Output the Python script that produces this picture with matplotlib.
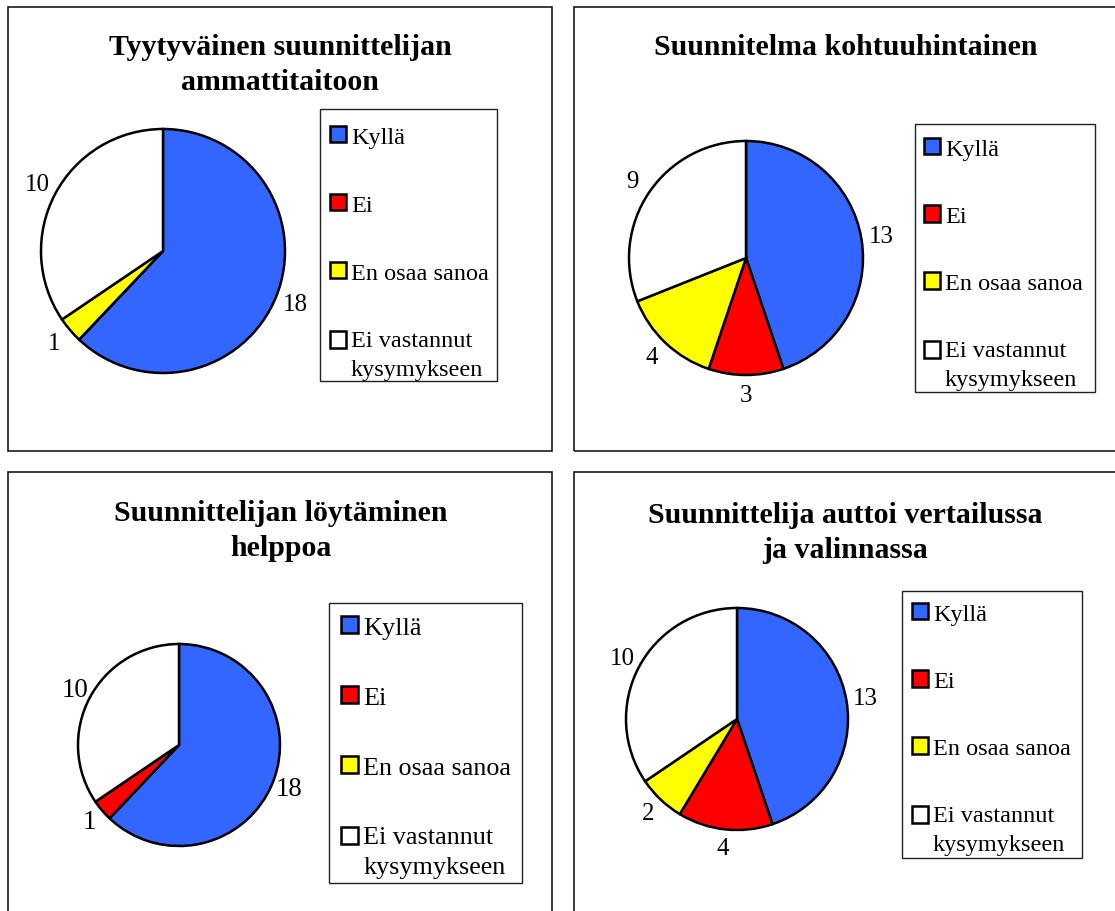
import matplotlib
matplotlib.use('Agg')
import matplotlib.pyplot as plt
from matplotlib.patches import Rectangle, Patch
from matplotlib.legend_handler import HandlerPatch

plt.rcParams['font.family'] = ['Liberation Serif', 'DejaVu Serif']

# data
categories = ['Kyllä', 'Ei', 'En osaa sanoa', 'Ei vastannut\nkysymykseen']
colors = ['#3366ff', '#ff0000', '#ffff00', '#ffffff']

titles = ['Tyytyväinen suunnittelijan\nammattitaitoon',
          'Suunnitelma kohtuuhintainen',
          'Suunnittelijan löytäminen\nhelppoa',
          'Suunnittelija auttoi vertailussa\nja valinnassa']

ammattitaito = [18, 0, 1, 10]
hinta = [13, 3, 4, 9]
loytaminen = [18, 1, 0, 10]
vertailu = [13, 4, 2, 10]

W, H = 1115, 912
fig = plt.figure(figsize=(W / 100, H / 100), dpi=100)


def fx(x):
    return x / W


def fy(y):
    return 1 - y / H


def box(x0, y0, x1, y1, lw, color):
    fig.add_artist(Rectangle((fx(x0), fy(y1)), (x1 - x0) / W, (y1 - y0) / H,
                             transform=fig.transFigure, fill=False,
                             edgecolor=color, linewidth=lw))


# square that sits on the first line of a two-line legend label
def top_square(legend, orig_handle, xdescent, ydescent, width, height, fontsize):
    return Rectangle((-xdescent, -ydescent + 0.6 * fontsize), width, height)


# panel borders (pixel coords, top-left origin)
panels = [(8, 8, 552, 452), (574, 8, 1125, 452),
          (8, 473, 552, 925), (574, 473, 1125, 925)]
for p in panels:
    box(*p, lw=1.2, color='#1a1a1a')

# pie centre/radius, title centre, legend anchor, legend frame, font size
layout = [
    dict(c=(163, 252), r=122, t=(280, 65), leg=(320, 117),
         frame=(320, 110, 497, 382), fs=17.5, ls=1.9),
    dict(c=(746, 259), r=117, t=(846, 48), leg=(914, 129),
         frame=(915, 125, 1095, 393), fs=17.5, ls=1.87),
    dict(c=(179, 746), r=101, t=(281, 531), leg=(330, 606),
         frame=(329, 604, 522, 884), fs=18.8, ls=1.8),
    dict(c=(737, 720), r=111, t=(845, 533), leg=(902, 594),
         frame=(902, 592, 1082, 859), fs=17.5, ls=1.87),
]

all_values = [ammattitaito, hinta, loytaminen, vertailu]

for vals, title, lay in zip(all_values, titles, layout):
    cx, cy = lay['c']
    r = lay['r']
    ax = fig.add_axes([fx(cx - r), fy(cy + r), 2 * r / W, 2 * r / H])
    labels = [str(v) if v > 0 else '' for v in vals]
    ax.pie(vals, labels=labels, colors=colors, startangle=90, counterclock=False,
           labeldistance=1.17,
           wedgeprops=dict(edgecolor='black', linewidth=1.8),
           textprops=dict(fontsize=lay['fs'] + 0.5, ha='center', va='center'))
    ax.set_xlim(-1, 1)
    ax.set_ylim(-1, 1)
    ax.set_axis_off()

    fig.text(fx(lay['t'][0]), fy(lay['t'][1]), title, ha='center', va='center',
             fontsize=21.5, fontweight='bold', linespacing=1.35)

    handles = [Patch(facecolor=c, edgecolor='black', linewidth=1.8) for c in colors]
    lx, ly = lay['leg']
    leg = fig.legend(handles, categories, loc='upper left',
                     bbox_to_anchor=(fx(lx), fy(ly)), bbox_transform=fig.transFigure,
                     fontsize=lay['fs'], frameon=False,
                     borderaxespad=0, borderpad=0.42,
                     labelspacing=lay['ls'], handlelength=0.65, handleheight=0.65,
                     handletextpad=0.2,
                     handler_map={handles[-1]: HandlerPatch(patch_func=top_square)})
    for txt in leg.get_texts():
        txt.set_linespacing(1.5)
    box(*lay['frame'], lw=1.0, color='#222222')

fig.savefig('out.png', dpi=100)
